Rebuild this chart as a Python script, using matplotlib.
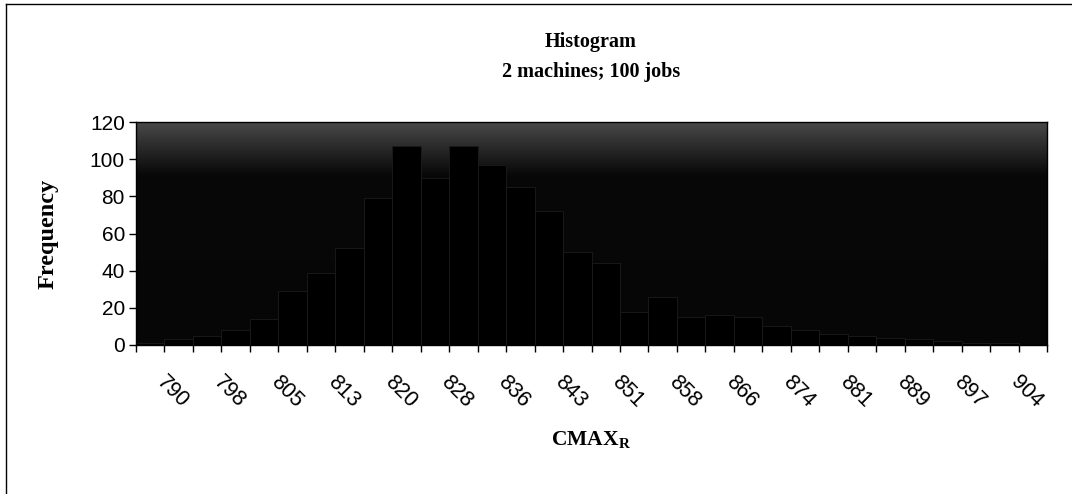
import numpy as np
import matplotlib
matplotlib.use('Agg')
import matplotlib.pyplot as plt
from matplotlib.colors import LinearSegmentedColormap
from matplotlib.transforms import ScaledTranslation
from matplotlib.lines import Line2D

# Histogram bins (upper bin values, as Excel shows them) and counts
bin_labels = ['790', '794', '798', '801', '805', '809', '813', '817',
              '820', '824', '828', '832', '836', '839', '843', '847',
              '851', '855', '858', '862', '866', '870', '874', '878',
              '881', '885', '889', '893', '897', '900', '904', '908']
frequency = [1, 3, 5, 8, 14, 29, 39, 52,
             79, 107, 90, 107, 97, 85, 72, 50,
             44, 18, 26, 15, 16, 15, 10, 8,
             6, 5, 4, 3, 2, 1, 1, 0]
y_ticks = [0, 20, 40, 60, 80, 100, 120]

plt.rcParams['mathtext.fontset'] = 'custom'
plt.rcParams['mathtext.bf'] = 'Liberation Serif:bold'
plt.rcParams['mathtext.rm'] = 'Liberation Serif:bold'

fig = plt.figure(figsize=(10.72, 4.94), dpi=100)
ax = fig.add_axes([136 / 1072, 1 - 345 / 494, (1047 - 136) / 1072, (345 - 122) / 494])

# dark scanned-looking plot area: lighter at the top, nearly black below
bg = LinearSegmentedColormap.from_list(
    'bg', [(0, '#060606'), (0.76, '#080808'), (0.9, '#2e2e2e'), (1.0, '#4a4a4a')])
grad = np.linspace(0, 1, 256).reshape(-1, 1)
ax.imshow(grad, cmap=bg, origin='lower', aspect='auto',
          extent=[0, 1, 0, 1], transform=ax.transAxes, zorder=0)

x = np.arange(len(frequency))
ax.bar(x, frequency, width=1.0, color='black', edgecolor='#1c1c1c',
       linewidth=0.6, zorder=2)

ax.set_xlim(-0.5, len(frequency) - 0.5)
ax.set_ylim(0, 120)
ax.set_yticks(y_ticks)
ax.tick_params(axis='y', direction='out', length=5, width=1, labelsize=15, pad=3)
for lab in ax.get_yticklabels():
    lab.set_fontfamily('Liberation Sans')

# category boundaries carry the tick marks, every other center carries a label
ax.set_xticks(np.arange(len(frequency) + 1) - 0.5)
ax.set_xticklabels([])
ax.tick_params(axis='x', which='major', direction='out', length=5, width=1)
ax.set_xticks(x[::2], minor=True)
ax.set_xticklabels(bin_labels[::2], minor=True)
ax.tick_params(axis='x', which='minor', length=0, pad=19, labelsize=15.5)
offset = ScaledTranslation(0.17, 0, fig.dpi_scale_trans)
for lab in ax.get_xticklabels(minor=True):
    lab.set_rotation(-45)
    lab.set_ha('left')
    lab.set_va('top')
    lab.set_rotation_mode('anchor')
    lab.set_fontfamily('Liberation Sans')
    lab.set_transform(lab.get_transform() + offset)

for s in ax.spines.values():
    s.set_color('black')
    s.set_linewidth(1)

fig.text(591 / 1072, 1 - 42 / 494, 'Histogram', ha='center', va='center',
         fontfamily='Liberation Serif', fontweight='bold', fontsize=14.5)
fig.text(591 / 1072, 1 - 72 / 494, '2 machines; 100 jobs', ha='center', va='center',
         fontfamily='Liberation Serif', fontweight='bold', fontsize=14.5)
fig.text(591 / 1072, 1 - 440 / 494, r'$\mathbf{CMAX}_{\mathbf{R}}$', ha='center',
         va='center', fontsize=15.5)
fig.text(48 / 1072, 1 - 234 / 494, 'Frequency', ha='center', va='center', rotation=90,
         fontfamily='Liberation Serif', fontweight='bold', fontsize=17.5)

# outer chart frame (left and top edges visible in the scan)
fig.add_artist(Line2D([6 / 1072, 6 / 1072], [0, 1 - 4 / 494], color='black', lw=1))
fig.add_artist(Line2D([6 / 1072, 1], [1 - 4 / 494, 1 - 4 / 494], color='black', lw=1))

fig.savefig('out.png', dpi=100)
